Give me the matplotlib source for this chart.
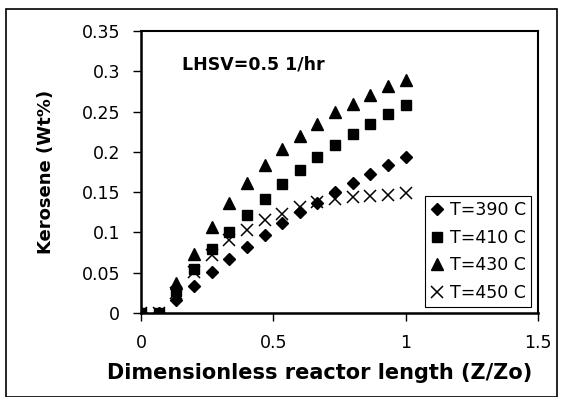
import matplotlib.pyplot as plt
from matplotlib.patches import Rectangle

plt.rcParams['font.family'] = ['DejaVu Sans']

# dimensionless reactor length, 16 points from 0 to 1
z = [0, 1/15, 2/15, 3/15, 4/15, 5/15, 6/15, 7/15, 8/15, 9/15,
     10/15, 11/15, 12/15, 13/15, 14/15, 1]

t390 = [0, 0, 0.016, 0.034, 0.051, 0.067, 0.082, 0.097, 0.112, 0.125,
        0.137, 0.150, 0.161, 0.173, 0.184, 0.194]
t410 = [0, 0, 0.027, 0.054, 0.079, 0.100, 0.122, 0.142, 0.160, 0.177,
        0.194, 0.208, 0.222, 0.235, 0.247, 0.258]
t430 = [0, 0, 0.037, 0.073, 0.107, 0.136, 0.161, 0.184, 0.203, 0.220,
        0.235, 0.249, 0.260, 0.271, 0.282, 0.289]
t450 = [0, 0, 0.025, 0.051, 0.072, 0.090, 0.103, 0.115, 0.123, 0.132,
        0.138, 0.141, 0.144, 0.145, 0.147, 0.149]

labels = ["T=390 C", "T=410 C", "T=430 C", "T=450 C"]
xticks = [0, 0.5, 1, 1.5]
yticks = [0, 0.05, 0.1, 0.15, 0.2, 0.25, 0.3, 0.35]

fig = plt.figure(figsize=(5.63, 3.97), dpi=100)
ax = fig.add_axes([141 / 563, 1 - 313 / 397, 397 / 563, 282 / 397])

ax.plot(z, t390, linestyle="none", marker="D", markersize=6.5, color="black", label=labels[0])
ax.plot(z, t410, linestyle="none", marker="s", markersize=7, color="black", label=labels[1])
ax.plot(z, t430, linestyle="none", marker="^", markersize=8, color="black", label=labels[2])
ax.plot(z, t450, linestyle="none", marker="x", markersize=8, markeredgewidth=1.1,
        color="black", label=labels[3])

ax.set_xlim(0, 1.5)
ax.set_ylim(0, 0.35)
ax.set_xticks(xticks)
ax.set_xticklabels(["0", "0.5", "1", "1.5"])
ax.set_yticks(yticks)
ax.set_yticklabels(["0", "0.05", "0.1", "0.15", "0.2", "0.25", "0.3", "0.35"])
ax.tick_params(direction="out", length=6, width=1, labelsize=12.5)
ax.tick_params(axis="y", pad=9)
ax.tick_params(axis="x", pad=9)
for s in ax.spines.values():
    s.set_linewidth(1.5)
ax.spines["left"].set_linewidth(1.8)
ax.spines["bottom"].set_linewidth(1.8)

ax.set_xlabel("Dimensionless reactor length (Z/Zo)", fontsize=15, fontweight="bold")
ax.xaxis.set_label_coords(0.451, -0.177, transform=ax.transAxes)
ax.set_ylabel("Kerosene (Wt%)", fontsize=13, fontweight="bold", labelpad=19)

ax.text(0.155, 0.309, "LHSV=0.5 1/hr", fontsize=12.5, fontweight="bold", va="center")

leg = ax.legend(loc="lower right", bbox_to_anchor=(531 / 563, 1 - 307 / 397),
                bbox_transform=fig.transFigure, fontsize=12.5, frameon=True,
                fancybox=False, edgecolor="black", framealpha=1, handlelength=0.7,
                handletextpad=0.4, borderpad=0.3, labelspacing=0.55, borderaxespad=0)
leg.get_frame().set_linewidth(0.8)

# outer chart frame
fig.patches.append(Rectangle((6 / 563, 0), 551 / 563, 1 - 9 / 397, transform=fig.transFigure,
                             fill=False, edgecolor="black", linewidth=1.2))

fig.savefig("out.png", dpi=100)
